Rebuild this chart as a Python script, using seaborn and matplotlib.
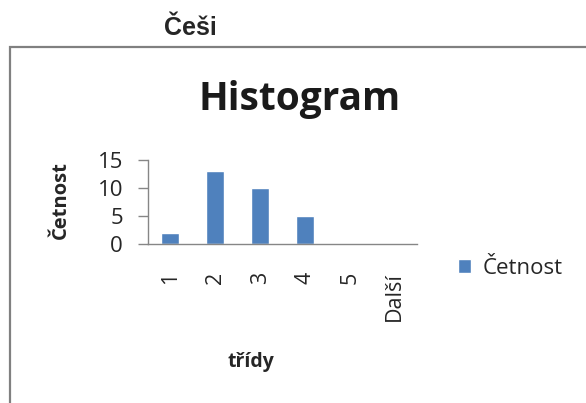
import matplotlib
matplotlib.use("Agg")
import matplotlib.pyplot as plt
import seaborn as sns
from matplotlib.patches import Rectangle

categories = ["1", "2", "3", "4", "5", "Další"]
values = [2, 13, 10, 5, 0, 0]
y_ticks = [0, 5, 10, 15]

sns.set_style("white")
plt.rcParams['font.family'] = ['Open Sans', 'DejaVu Sans']

W, H = 586, 403
fig = plt.figure(figsize=(W / 100, H / 100), dpi=100)

# outer frame
fig.add_artist(Rectangle((10 / W, -0.05), 1.2, 1 - 47 / H + 0.05, transform=fig.transFigure,
                         fill=False, edgecolor="#808080", linewidth=1.6))
fig.text(190 / W, 1 - 28 / H, "Češi", ha="center", va="center", fontsize=18,
         fontweight="bold", family=["Liberation Sans", "DejaVu Sans"])

ax = fig.add_axes([148 / W, 1 - 244 / H, (417 - 148) / W, (244 - 160) / H])
sns.barplot(x=categories, y=values, color="#4F81BD", width=0.4, ax=ax, label="Četnost",
            saturation=1)
ax.set_xlim(-0.5, len(categories) - 0.5)
ax.set_ylim(0, 15)
ax.set_yticks(y_ticks)
ax.set_yticklabels([str(t) for t in y_ticks], fontsize=16, color="#262626")
ax.set_xticks(range(len(categories)))
ax.set_xticklabels(categories, rotation=90, fontsize=15.5, color="#262626")
ax.set_xticks([i - 0.5 for i in range(len(categories) + 1)], minor=True)
ax.tick_params(axis="x", which="major", length=0, pad=20)
ax.tick_params(axis="x", which="minor", length=8, color="#868686", width=1)
ax.tick_params(axis="y", length=7, color="#868686", width=1, pad=11, left=True)
for s in ["top", "right"]:
    ax.spines[s].set_visible(False)
for s in ["left", "bottom"]:
    ax.spines[s].set_color("#868686")
    ax.spines[s].set_linewidth(1)

ax.set_xlabel("třídy", fontsize=14, fontweight="bold")
ax.set_ylabel("Četnost", fontsize=14.5, fontweight="bold")
ax.xaxis.set_label_coords((251 - 148) / (417 - 148), -(362 - 244) / (244 - 160))
ax.xaxis.label.set_va("center")
ax.yaxis.set_label_coords(-(148 - 61) / (417 - 148), (244 - 200) / (244 - 160))
ax.yaxis.label.set_va("center")

fig.text(300 / W, 1 - 110 / H, "Histogram", ha="center", va="baseline", fontsize=28,
         fontweight="bold", color="#1a1a1a")

leg = ax.legend(loc="center left", bbox_to_anchor=((458 - 148) / (417 - 148), -(268 - 244) / (244 - 160)),
                frameon=False, fontsize=16, handlelength=0.6, handleheight=0.6, handletextpad=0.5,
                borderaxespad=0, borderpad=0)

fig.savefig("out.png", dpi=100, facecolor="white")
